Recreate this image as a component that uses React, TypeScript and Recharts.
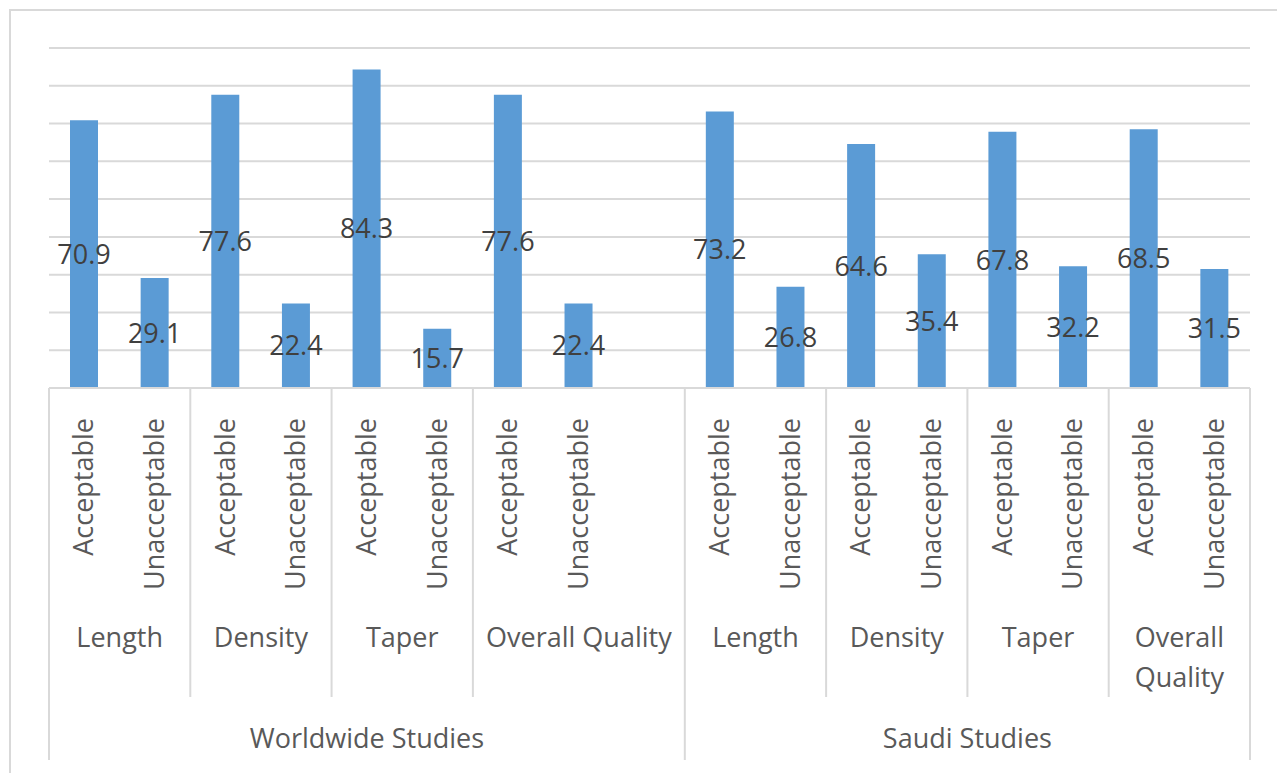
import React from "react";
import {
  Bar,
  BarChart,
  CartesianGrid,
  LabelList,
  XAxis,
  YAxis,
} from "recharts";

// bar-level labels (one per slot, "" = empty spacer slot)
const subLabels = [
  "Acceptable", "Unacceptable",
  "Acceptable", "Unacceptable",
  "Acceptable", "Unacceptable",
  "Acceptable", "Unacceptable", "",
  "Acceptable", "Unacceptable",
  "Acceptable", "Unacceptable",
  "Acceptable", "Unacceptable",
  "Acceptable", "Unacceptable",
];

const values = [
  70.9, 29.1, 77.6, 22.4, 84.3, 15.7, 77.6, 22.4, null,
  73.2, 26.8, 64.6, 35.4, 67.8, 32.2, 68.5, 31.5,
];

const midGroups = [
  { label: "Length", span: 2 },
  { label: "Density", span: 2 },
  { label: "Taper", span: 2 },
  { label: "Overall Quality", span: 3 },
  { label: "Length", span: 2 },
  { label: "Density", span: 2 },
  { label: "Taper", span: 2 },
  { label: "Overall Quality", span: 2 },
];

const topGroups = [
  { label: "Worldwide Studies", span: 9 },
  { label: "Saudi Studies", span: 8 },
];

const yTicks = [0, 10, 20, 30, 40, 50, 60, 70, 80, 90];

const data = values.map((v, i) => ({ id: `c${i}`, value: v }));

const W = 1277;
const H = 773;
const M = { top: 48, right: 27, left: 49, bottom: 0 };
const PLOT_BOTTOM = 388;
const SLOT = (W - M.left - M.right) / values.length;

const FONT = "'Open Sans', 'Liberation Sans', sans-serif";
const GRID = "#d9d9d9";
const TEXT = "#595959";

function startsAt(groups: { span: number }[]) {
  const starts: Record<number, number> = {};
  let i = 0;
  groups.forEach((g, gi) => {
    starts[i] = gi;
    i += g.span;
  });
  return starts;
}
const midStarts = startsAt(midGroups);
const topStarts = startsAt(topGroups);

function GroupLabel({ cx, y, text, width }: { cx: number; y: number; text: string; width: number }) {
  const est = text.length * 12.5;
  const lines = est > width - 10 && text.includes(" ") ? text.split(" ") : [text];
  return (
    <text x={cx} y={y} textAnchor="middle" fontSize={27} fill={TEXT} fontFamily={FONT}>
      {lines.map((l, k) => (
        <tspan key={k} x={cx} dy={k === 0 ? 0 : 40}>
          {l}
        </tspan>
      ))}
    </text>
  );
}

function MultiTick(props: any) {
  const { x, payload } = props;
  const index: number = props.index ?? payload.index;
  const slot = payload?.offset ? payload.offset * 2 : SLOT;
  const left = x - slot / 2;
  const label = subLabels[index];
  const mid = midStarts[index];
  const top = topStarts[index];
  const isLast = index === values.length - 1;
  return (
    <g>
      {label && (
        <text
          transform={`translate(${x + 9},${PLOT_BOTTOM + 30}) rotate(-90)`}
          textAnchor="end"
          fontSize={27}
          fill={TEXT}
          fontFamily={FONT}
        >
          {label}
        </text>
      )}
      {mid !== undefined && (
        <>
          {top === undefined && (
            <line x1={left} x2={left} y1={PLOT_BOTTOM} y2={697} stroke={GRID} strokeWidth={2} />
          )}
          <GroupLabel
            cx={left + (midGroups[mid].span * slot) / 2}
            y={647}
            text={midGroups[mid].label}
            width={midGroups[mid].span * slot}
          />
        </>
      )}
      {top !== undefined && (
        <>
          <line x1={left} x2={left} y1={PLOT_BOTTOM} y2={760} stroke={GRID} strokeWidth={2} />
          <GroupLabel
            cx={left + (topGroups[top].span * slot) / 2}
            y={748}
            text={topGroups[top].label}
            width={topGroups[top].span * slot}
          />
        </>
      )}
      {isLast && (
        <line
          x1={left + slot}
          x2={left + slot}
          y1={PLOT_BOTTOM}
          y2={760}
          stroke={GRID}
          strokeWidth={2}
        />
      )}
    </g>
  );
}

export default function App() {
  return (
    <div
      style={{
        position: "absolute",
        left: 0,
        top: 0,
        width: W,
        height: H,
        overflow: "hidden",
        background: "#fff",
      }}
    >
      <div
        style={{
          position: "absolute",
          left: 9,
          top: 9,
          width: 1400,
          height: 900,
          border: `2px solid ${GRID}`,
        }}
      />
      <div style={{ position: "absolute", left: 0, top: 0 }}>
        <BarChart width={W} height={H} data={data} margin={M} barSize={28}>
          <CartesianGrid vertical={false} stroke={GRID} strokeWidth={2} />
          <YAxis hide domain={[0, 90]} ticks={yTicks} />
          <XAxis
            dataKey="id"
            height={H - PLOT_BOTTOM}
            interval={0}
            tickLine={false}
            axisLine={{ stroke: GRID, strokeWidth: 2 }}
            tick={<MultiTick />}
          />
          <Bar dataKey="value" fill="#5b9bd5" isAnimationActive={false}>
            <LabelList
              dataKey="value"
              position="center"
              fontSize={27}
              fill="#404040"
              fontFamily={FONT}
            />
          </Bar>
        </BarChart>
      </div>
    </div>
  );
}
